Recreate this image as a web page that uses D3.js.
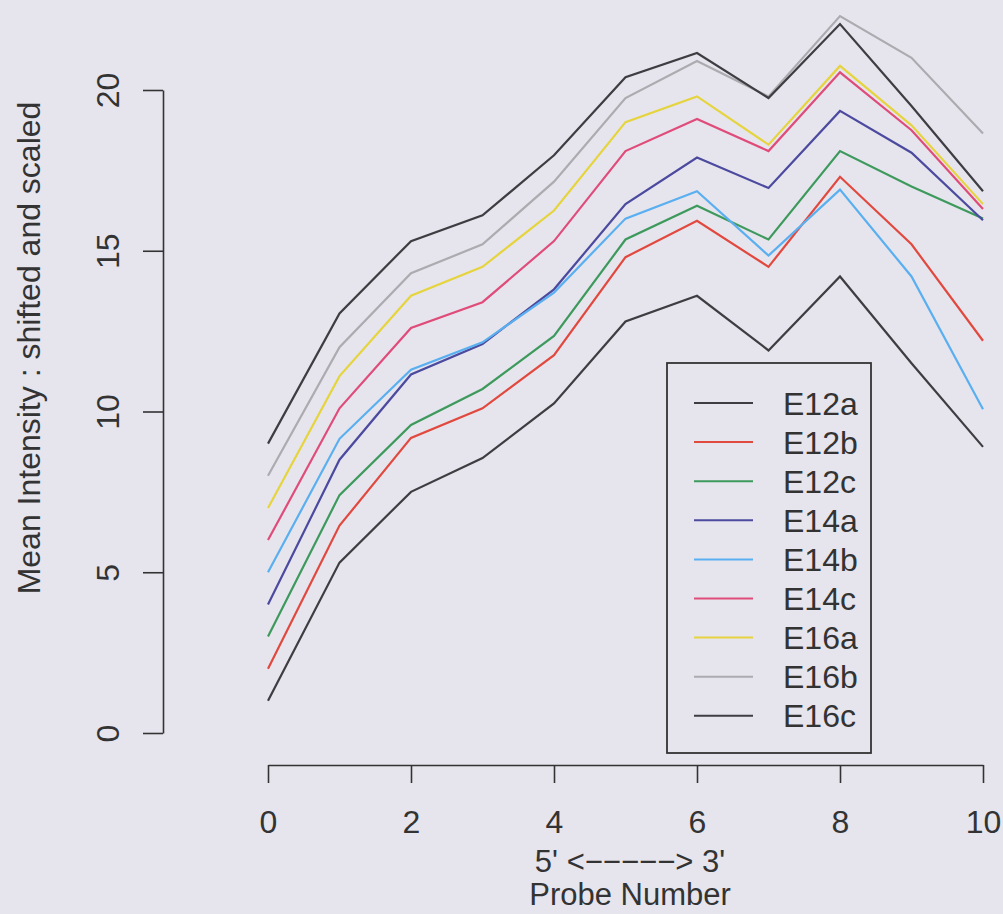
<!DOCTYPE html>
<html>
<head>
<meta charset="utf-8">
<script src="https://cdn.jsdelivr.net/npm/d3@7"></script>
<style>
  body { margin: 0; background: #e6e5ee; }
  svg { display: block; }
  text { font-family: "Liberation Sans", Arial, sans-serif; fill: #333; }
</style>
</head>
<body>
<svg id="chart" width="1003" height="914"></svg>
<script>
// probe positions 5' -> 3'
var probes = [0, 1, 2, 3, 4, 5, 6, 7, 8, 9, 10];

var sampleNames = ["E12a", "E12b", "E12c", "E14a", "E14b", "E14c", "E16a", "E16b", "E16c"];
var sampleColors = ["#3d3d42", "#e2493e", "#3e9a5c", "#4b4a9e", "#5aaff0", "#e04c7a", "#e6d43e", "#acabb0", "#3d3d42"];

// mean intensity, shifted and scaled
var e12a = [1.0, 5.3, 7.5, 8.55, 10.25, 12.8, 13.6, 11.9, 14.2, 11.5, 8.9];
var e12b = [2.0, 6.45, 9.18, 10.1, 11.75, 14.8, 15.93, 14.5, 17.3, 15.2, 12.2];
var e12c = [3.0, 7.4, 9.58, 10.7, 12.35, 15.35, 16.4, 15.35, 18.1, 17.0, 16.0];
var e14a = [4.0, 8.5, 11.15, 12.1, 13.8, 16.45, 17.9, 16.95, 19.35, 18.05, 15.95];
var e14b = [5.0, 9.15, 11.3, 12.15, 13.7, 16.0, 16.85, 14.85, 16.9, 14.2, 10.07];
var e14c = [6.0, 10.1, 12.6, 13.4, 15.3, 18.1, 19.1, 18.1, 20.55, 18.75, 16.3];
var e16a = [7.0, 11.1, 13.6, 14.5, 16.25, 19.0, 19.8, 18.3, 20.75, 18.9, 16.45];
var e16b = [8.0, 12.0, 14.3, 15.2, 17.15, 19.75, 20.9, 19.8, 22.3, 21.0, 18.65];
var e16c = [9.0, 13.05, 15.3, 16.1, 17.97, 20.4, 21.15, 19.75, 22.05, 19.5, 16.85];

var xTicks = [0, 2, 4, 6, 8, 10];
var yTicks = [0, 5, 10, 15, 20];

var allSeries = [e12a, e12b, e12c, e14a, e14b, e14c, e16a, e16b, e16c];

var svg = d3.select("#chart");
var fontSize = 32;

var x = d3.scaleLinear().domain([0, 10]).range([268, 983]);
var y = d3.scaleLinear().domain([0, 20]).range([733, 90]);

// x axis (R style: line only between first and last tick, ticks outwards)
var xAxis = svg.append("g")
    .attr("transform", "translate(0,765)")
    .call(d3.axisBottom(x).tickValues(xTicks).tickSize(18).tickSizeOuter(0).tickPadding(27).tickFormat(d3.format("d")));

xAxis.select(".domain").attr("stroke", "#333").attr("stroke-width", 1.6);
xAxis.selectAll(".tick line").attr("stroke", "#333").attr("stroke-width", 1.6);
xAxis.selectAll(".tick text")
    .attr("fill", "#333")
    .style("font-size", fontSize + "px")
    .style("font-family", "'Liberation Sans', Arial, sans-serif");

// y axis, labels parallel to axis
var yAxis = svg.append("g")
    .attr("transform", "translate(163,0)")
    .call(d3.axisLeft(y).tickValues(yTicks).tickSize(20).tickSizeOuter(0).tickFormat(d3.format("d")));

yAxis.select(".domain").attr("stroke", "#333").attr("stroke-width", 1.6);
yAxis.selectAll(".tick line").attr("stroke", "#333").attr("stroke-width", 1.6);
yAxis.selectAll(".tick text")
    .attr("fill", "#333")
    .attr("x", null)
    .attr("dy", null)
    .attr("text-anchor", "middle")
    .attr("transform", "translate(-44,0) rotate(-90)")
    .style("font-size", fontSize + "px")
    .style("font-family", "'Liberation Sans', Arial, sans-serif");

// axis titles
svg.append("text")
    .attr("transform", "translate(40,348) rotate(-90)")
    .attr("text-anchor", "middle")
    .style("font-size", fontSize + "px")
    .text("Mean Intensity : shifted and scaled");

svg.append("text")
    .attr("x", 630)
    .attr("y", 872)
    .attr("text-anchor", "middle")
    .style("font-size", (fontSize - 1) + "px")
    .text("5' <\u2212\u2212\u2212\u2212\u2212> 3'");

svg.append("text")
    .attr("x", 630)
    .attr("y", 905)
    .attr("text-anchor", "middle")
    .style("font-size", (fontSize - 1) + "px")
    .text("Probe Number");

// the sample lines
var line = d3.line()
    .x(function (d, i) { return x(probes[i]); })
    .y(function (d) { return y(d); });

svg.append("g")
    .attr("class", "lines")
    .selectAll("path")
    .data(allSeries)
    .enter()
    .append("path")
    .attr("d", line)
    .attr("fill", "none")
    .attr("stroke", function (d, i) { return sampleColors[i]; })
    .attr("stroke-width", 2.2)
    .attr("stroke-linejoin", "miter");

// legend
var legend = svg.append("g").attr("class", "legend");

legend.append("rect")
    .attr("x", 667)
    .attr("y", 363)
    .attr("width", 204)
    .attr("height", 390)
    .attr("fill", "none")
    .attr("stroke", "#333")
    .attr("stroke-width", 1.8);

var rows = legend.selectAll("g.row")
    .data(sampleNames)
    .enter()
    .append("g")
    .attr("class", "row")
    .attr("transform", function (d, i) { return "translate(0," + (403 + i * 39.1) + ")"; });

rows.append("line")
    .attr("x1", 694)
    .attr("x2", 753)
    .attr("y1", 0)
    .attr("y2", 0)
    .attr("stroke", function (d, i) { return sampleColors[i]; })
    .attr("stroke-width", 2);

rows.append("text")
    .attr("x", 783)
    .attr("y", 0)
    .attr("dy", "0.36em")
    .style("font-size", fontSize + "px")
    .text(function (d) { return d; });
</script>
</body>
</html>
